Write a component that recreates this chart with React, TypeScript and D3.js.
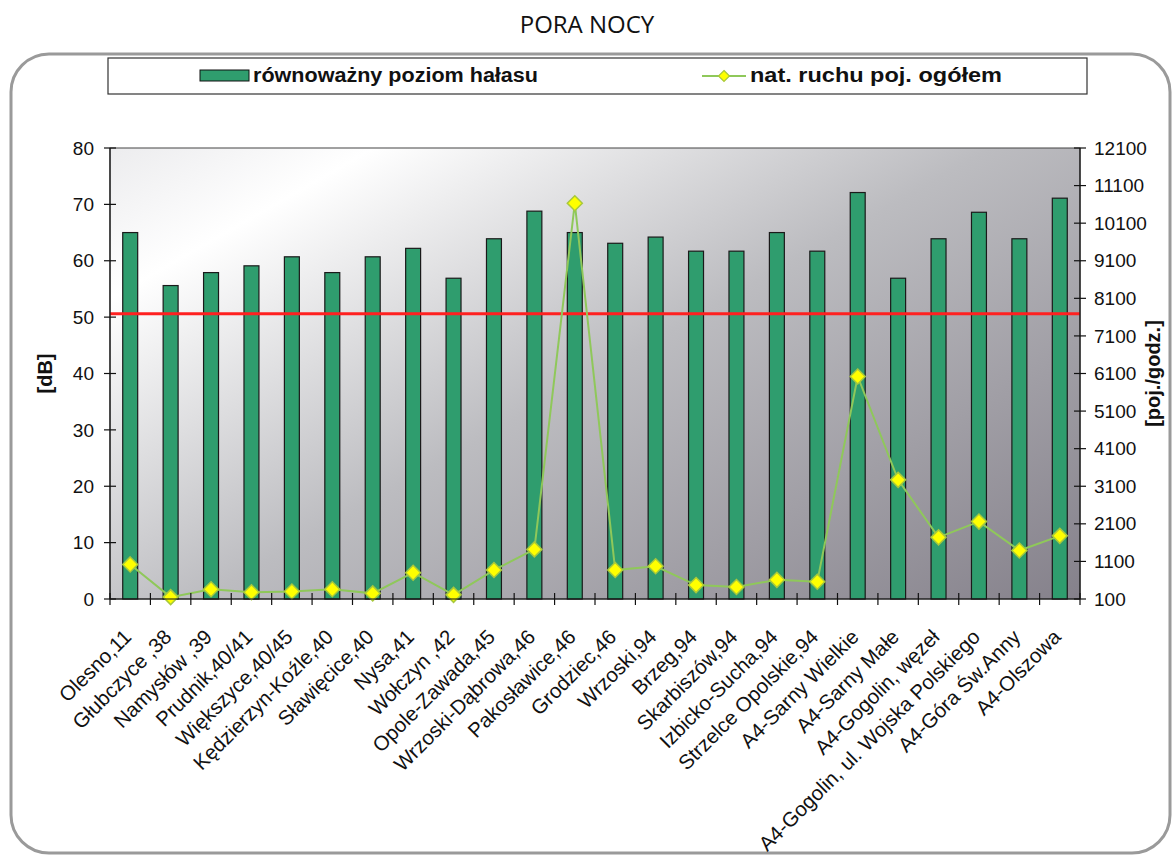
import React from "react";
import * as d3 from "d3";

const categories = [
  "Olesno,11", "Głubczyce ,38", "Namysłów ,39", "Prudnik,40/41", "Większyce,40/45",
  "Kędzierzyn-Koźle,40", "Sławięcice,40", "Nysa,41", "Wołczyn ,42", "Opole-Zawada,45",
  "Wrzoski-Dąbrowa,46", "Pakosławice,46", "Grodziec,46", "Wrzoski,94", "Brzeg,94",
  "Skarbiszów,94", "Izbicko-Sucha,94", "Strzelce Opolskie,94", "A4-Sarny Wielkie",
  "A4-Sarny Małe", "A4-Gogolin, węzeł", "A4-Gogolin, ul. Wojska Polskiego",
  "A4-Góra Św.Anny", "A4-Olszowa",
];
const noiseLevel = [
  65.0, 55.6, 57.9, 59.1, 60.7, 57.9, 60.7, 62.2, 56.9, 63.9, 68.8, 65.0,
  63.1, 64.2, 61.7, 61.7, 65.0, 61.7, 72.1, 56.9, 63.9, 68.6, 63.9, 71.1,
];
const traffic = [
  1020, 150, 360, 280, 300, 360, 250, 800, 210, 870, 1420, 10630,
  870, 970, 470, 420, 610, 560, 6020, 3270, 1740, 2160, 1390, 1780,
];
const threshold = 50.6;
const leftTicks = [0, 10, 20, 30, 40, 50, 60, 70, 80];
const rightTicks = [100, 1100, 2100, 3100, 4100, 5100, 6100, 7100, 8100, 9100, 10100, 11100, 12100];

const title = "PORA NOCY";
const legendBar = "równoważny poziom hałasu";
const legendLine = "nat. ruchu poj. ogółem";
const leftTitle = "[dB]";
const rightTitle = "[poj./godz.]";

export default function App() {
  const W = 1174, H = 855;
  const L = 110, R = 1080, T = 148, B = 599;
  const x = d3.scaleBand<string>().domain(categories).range([L, R]).padding(0);
  const step = x.bandwidth();
  const barW = step * 0.37;
  const cx = (c: string) => (x(c) as number) + step / 2;
  const yL = d3.scaleLinear().domain([0, 80]).range([B, T]);
  const yR = d3.scaleLinear().domain([100, 12100]).range([B, T]);
  const line = d3.line<number>().x((_, i) => cx(categories[i])).y((v) => yR(v));
  const font = "'Liberation Sans', Arial, sans-serif";
  const green = "#2f9d6e";
  const diamond = (px: number, py: number, r: number) =>
    `M${px},${py - r}L${px + r},${py}L${px},${py + r}L${px - r},${py}Z`;

  return (
    <svg width={W} height={H} style={{ position: "absolute", left: 0, top: 0 }} fontFamily={font}>
      <defs>
        <linearGradient id="bg" x1="0" y1="0" x2="1.09" y2="0.89">
          <stop offset="0" stopColor="#ececee" />
          <stop offset="0.15" stopColor="#ffffff" />
          <stop offset="0.5" stopColor="#bcbcc0" />
          <stop offset="1" stopColor="#85818b" />
        </linearGradient>
      </defs>
      <rect width={W} height={H} fill="#fff" />
      <text x={587} y={33} textAnchor="middle" fontFamily="'Open Sans', sans-serif" fontSize={24} fontWeight={500} fill="#111">
        {title}
      </text>
      <rect x={11} y={54} width={1159} height={799} rx={38} ry={38} fill="#fff" stroke="#9a9a9a" strokeWidth={3} />
      {/* legend */}
      <rect x={108} y={58} width={979} height={36} fill="#fff" stroke="#333" strokeWidth={1.2} />
      <rect x={200} y={70} width={49} height={11} fill={green} stroke="#111" strokeWidth={1} />
      <text x={253} y={82} fontSize={20} fontWeight="bold" fill="#111" textLength={285} lengthAdjust="spacingAndGlyphs">
        {legendBar}
      </text>
      <line x1={702} x2={746} y1={76} y2={76} stroke="#8fc85a" strokeWidth={2} />
      <path d={diamond(724, 76, 5.5)} fill="#ffff00" stroke="#a8c83c" strokeWidth={1.2} />
      <text x={750} y={82} fontSize={20} fontWeight="bold" fill="#111" textLength={252} lengthAdjust="spacingAndGlyphs">
        {legendLine}
      </text>
      {/* plot area */}
      <rect x={L} y={T} width={R - L} height={B - T} fill="url(#bg)" stroke="#444" strokeWidth={1} />
      {categories.map((c, i) => (
        <rect key={c} x={cx(c) - barW / 2} y={yL(noiseLevel[i])} width={barW} height={B - yL(noiseLevel[i])}
          fill={green} stroke="#1a1a1a" strokeWidth={1.2} />
      ))}
      <line x1={L} x2={R} y1={yL(threshold)} y2={yL(threshold)} stroke="#ff2020" strokeWidth={3} />
      <path d={line(traffic) || ""} fill="none" stroke="#8fc85a" strokeWidth={2} />
      {traffic.map((v, i) => (
        <path key={i} d={diamond(cx(categories[i]), yR(v), 7.5)} fill="#ffff00" stroke="#a8c83c" strokeWidth={1.5} />
      ))}
      {/* axes */}
      <line x1={L} x2={L} y1={T} y2={B} stroke="#111" strokeWidth={1.2} />
      <line x1={R} x2={R} y1={T} y2={B} stroke="#111" strokeWidth={1.2} />
      <line x1={L} x2={R} y1={B} y2={B} stroke="#111" strokeWidth={1.2} />
      {leftTicks.map((t) => (
        <g key={"l" + t}>
          <line x1={L - 6} x2={L + 6} y1={yL(t)} y2={yL(t)} stroke="#111" strokeWidth={1.2} />
          <text x={L - 16} y={yL(t)} dy="0.35em" textAnchor="end" fontSize={19} fill="#111">{t}</text>
        </g>
      ))}
      {rightTicks.map((t) => (
        <g key={"r" + t}>
          <line x1={R - 6} x2={R + 6} y1={yR(t)} y2={yR(t)} stroke="#111" strokeWidth={1.2} />
          <text x={R + 14} y={yR(t)} dy="0.35em" textAnchor="start" fontSize={19} fill="#111">{t}</text>
        </g>
      ))}
      {d3.range(categories.length + 1).map((i) => (
        <line key={"x" + i} x1={L + i * step} x2={L + i * step} y1={B - 6} y2={B + 6} stroke="#111" strokeWidth={1.2} />
      ))}
      {categories.map((c) => (
        <text key={"t" + c} transform={`translate(${cx(c) - 8},${B + 29}) rotate(-45)`} textAnchor="end"
          dy="0.71em" fontSize={20.5} fill="#111">{c}</text>
      ))}
      <text transform={`translate(52,${(T + B) / 2}) rotate(-90)`} textAnchor="middle" fontSize={20} fontWeight="bold" fill="#111">
        {leftTitle}
      </text>
      <text transform={`translate(1160,${(T + B) / 2}) rotate(-90)`} textAnchor="middle" fontSize={20} fontWeight="bold" fill="#111">
        {rightTitle}
      </text>
    </svg>
  );
}
